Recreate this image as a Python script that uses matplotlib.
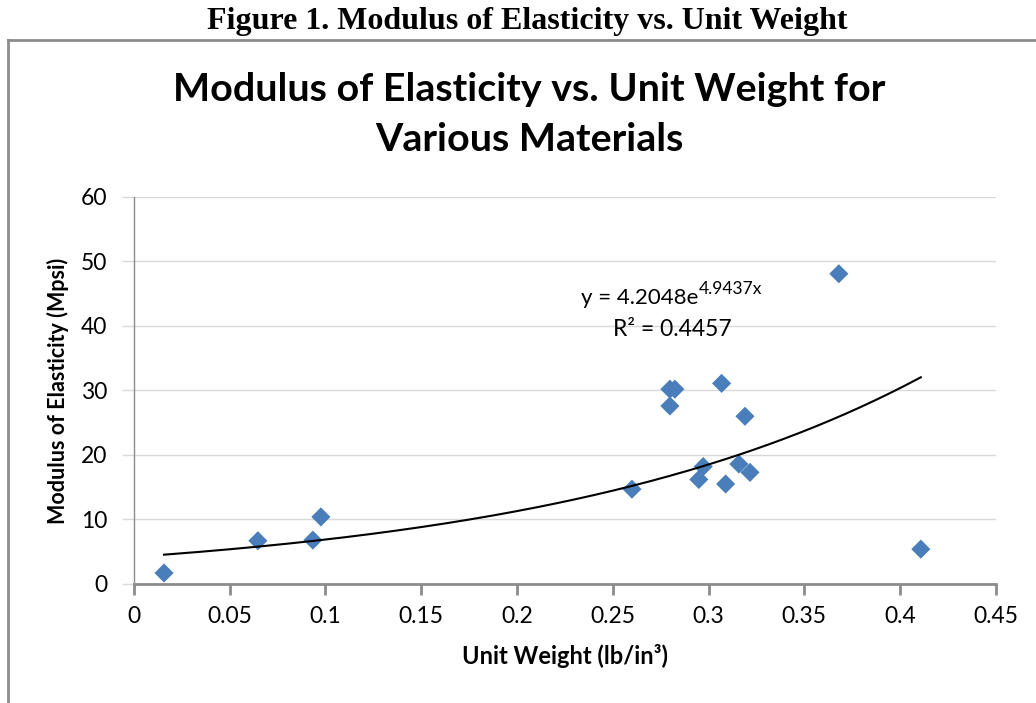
import numpy as np
import matplotlib
matplotlib.use("Agg")
import matplotlib.pyplot as plt
from matplotlib.lines import Line2D

# data
unit_weight = [0.0157, 0.0647, 0.0934, 0.0976, 0.2600, 0.2798, 0.2824, 0.2798,
               0.3068, 0.3190, 0.2949, 0.2972, 0.3089, 0.3158, 0.3216, 0.3680,
               0.4108]
modulus = [1.7, 6.7, 6.8, 10.4, 14.7, 30.2, 30.2, 27.6,
           31.1, 26.0, 16.2, 18.2, 15.5, 18.6, 17.3, 48.1,
           5.4]

# exponential trendline as shown on the chart
fit_a = 4.2048
fit_b = 4.9437
r_squared = 0.4457

x_ticks = [0, 0.05, 0.1, 0.15, 0.2, 0.25, 0.3, 0.35, 0.4, 0.45]
x_labels = ["0", "0.05", "0.1", "0.15", "0.2", "0.25", "0.3", "0.35", "0.4", "0.45"]
y_ticks = [0, 10, 20, 30, 40, 50, 60]

plt.rcParams["font.family"] = ["Lato", "DejaVu Sans"]

fig = plt.figure(figsize=(10.36, 7.03), dpi=100)
ax = fig.add_axes([0.1293, 0.1693, 0.8320, 0.5505])

# caption above the chart box
fig.text(0.509, 0.970, "Figure 1. Modulus of Elasticity vs. Unit Weight",
         ha="center", va="center", fontsize=23, fontweight="bold",
         family="Liberation Serif")

# chart area border (top and left only visible)
border = "#8c8c8c"
fig.add_artist(Line2D([0.0077, 1.0], [0.9431, 0.9431], color=border, lw=2,
                      transform=fig.transFigure))
fig.add_artist(Line2D([0.0077, 0.0077], [0.0, 0.9431], color=border, lw=2,
                      transform=fig.transFigure))

fig.text(0.511, 0.872, "Modulus of Elasticity vs. Unit Weight for",
         ha="center", va="center", fontsize=28.4, fontweight="bold")
fig.text(0.511, 0.801, "Various Materials",
         ha="center", va="center", fontsize=28.4, fontweight="bold")

ax.scatter(unit_weight, modulus, marker="D", s=95, color="#4a7ebb",
           edgecolors="none", zorder=3)

xs = np.linspace(min(unit_weight), max(unit_weight), 200)
ax.plot(xs, fit_a * np.exp(fit_b * xs), color="black", lw=1.5, zorder=4)

eq = ax.text(0.2334, 44.3, "y = 4.2048e", fontsize=16, ha="left", va="center")
ax.annotate("4.9437x", xy=(1.0, 0.55), xycoords=eq, fontsize=12.5,
            ha="left", va="bottom")
ax.text(0.2809, 39.4, "R\u00b2 = %.4f" % r_squared, fontsize=16.5,
        ha="center", va="center")

ax.set_xlim(0, 0.45)
ax.set_ylim(0, 60)
ax.set_xticks(x_ticks, labels=x_labels)
ax.set_yticks(y_ticks)
ax.tick_params(axis="both", labelsize=16.5)
ax.tick_params(axis="x", direction="out", length=8, width=2, color="#8c8c8c", pad=8)
ax.tick_params(axis="y", direction="out", length=9, width=1, color="#d9d9d9", pad=10)

ax.grid(axis="y", color="#d9d9d9", lw=1)
ax.set_axisbelow(True)
for side in ["top", "right"]:
    ax.spines[side].set_visible(False)
ax.spines["left"].set_color("#8c8c8c")
ax.spines["left"].set_linewidth(1)
ax.spines["bottom"].set_color("#8c8c8c")
ax.spines["bottom"].set_linewidth(2)

ax.set_xlabel("Unit Weight (lb/in\u00b3)", fontsize=17, fontweight="bold", labelpad=12)
ax.set_ylabel("Modulus of Elasticity (Mpsi)", fontsize=15.5, fontweight="bold", labelpad=9)

fig.savefig("out.png", dpi=100)
